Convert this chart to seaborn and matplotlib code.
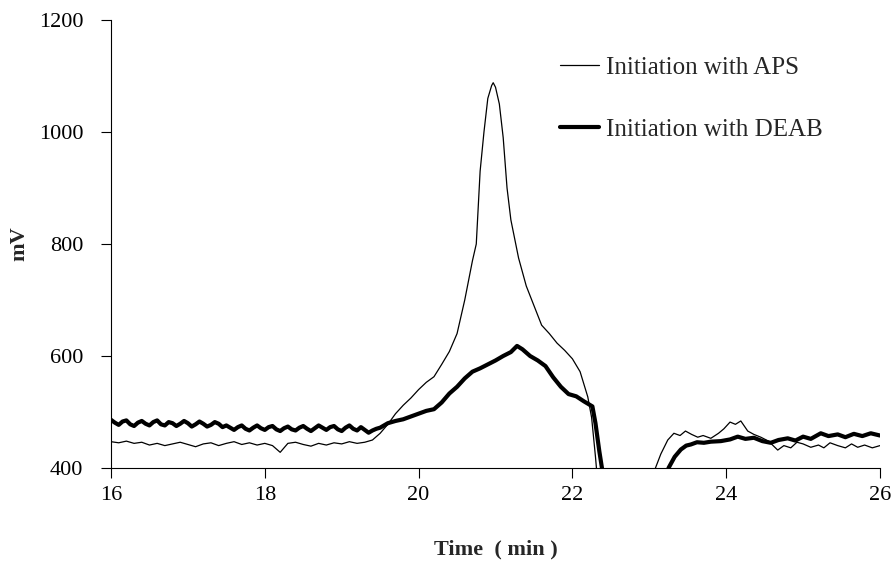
import numpy as np
import pandas as pd
import matplotlib
matplotlib.use("Agg")
import matplotlib.pyplot as plt
import seaborn as sns

# ---- data ----
aps_time = [16.0, 16.1, 16.2, 16.3, 16.4, 16.5, 16.6, 16.7, 16.8, 16.9,
            17.0, 17.1, 17.2, 17.3, 17.4, 17.5, 17.6, 17.7, 17.8, 17.9,
            18.0, 18.1, 18.2, 18.3, 18.4, 18.5, 18.6, 18.7, 18.8, 18.9,
            19.0, 19.1, 19.2, 19.3, 19.4,
            19.5, 19.6, 19.7, 19.8, 19.9, 20.0, 20.1, 20.2, 20.3, 20.4,
            20.5, 20.6, 20.7, 20.75, 20.8, 20.85, 20.9, 20.95, 20.97, 21.0,
            21.05, 21.1, 21.15, 21.2, 21.3, 21.4, 21.5, 21.6, 21.7, 21.8,
            21.9, 22.0, 22.1, 22.2, 22.25, 22.3, 22.35, 22.5, 23.0,
            23.08, 23.15, 23.24, 23.32, 23.4, 23.47, 23.55, 23.63, 23.7, 23.8,
            23.9, 23.97, 24.05, 24.12, 24.19, 24.28, 24.36, 24.45, 24.55, 24.67,
            24.75, 24.84, 24.92, 25.0, 25.1, 25.2, 25.27, 25.35, 25.45, 25.55,
            25.63, 25.71, 25.8, 25.9, 26.0]
aps_mv = [447, 445, 448, 444, 446, 441, 444, 440, 443, 446,
          442, 438, 443, 445, 440, 444, 447, 442, 445, 441,
          444, 440, 428, 444, 446, 442, 439, 444, 441, 445,
          443, 447, 444, 446, 450,
          462, 478, 497, 512, 525, 540, 553, 563, 585, 608,
          640, 700, 770, 800, 930, 1000, 1060, 1083, 1088, 1080,
          1050, 990, 900, 843, 775, 725, 690, 655, 640, 623,
          610, 595, 572, 527, 490, 420, 340, 300, 300,
          400, 425, 450, 462, 458, 466, 460, 455, 458, 453,
          462, 470, 482, 478, 484, 466, 460, 455, 448, 432,
          440, 436, 446, 443, 437, 441, 436, 445, 440, 436,
          443, 437, 441, 436, 440]

deab_time = [16.00, 16.05, 16.10, 16.15, 16.20, 16.25, 16.30, 16.35, 16.40, 16.45,
             16.50, 16.55, 16.60, 16.65, 16.70, 16.75, 16.80, 16.85, 16.90, 16.95,
             17.00, 17.05, 17.10, 17.15, 17.20, 17.25, 17.30, 17.35, 17.40, 17.45,
             17.50, 17.55, 17.60, 17.65, 17.70, 17.75, 17.80, 17.85, 17.90, 17.95,
             18.00, 18.05, 18.10, 18.15, 18.20, 18.25, 18.30, 18.35, 18.40, 18.45,
             18.50, 18.55, 18.60, 18.65, 18.70, 18.75, 18.80, 18.85, 18.90, 18.95,
             19.00, 19.05, 19.10, 19.15, 19.20, 19.25, 19.30, 19.35, 19.40, 19.45,
             19.5, 19.6, 19.7, 19.8, 19.9, 20.0, 20.1, 20.2, 20.3, 20.4,
             20.5, 20.6, 20.7, 20.8, 20.9, 21.0, 21.1, 21.2, 21.28, 21.35,
             21.45, 21.55, 21.65, 21.75, 21.85, 21.95, 22.05, 22.15, 22.26, 22.3,
             22.35, 22.39, 22.45, 23.2,
             23.25, 23.33, 23.41, 23.48, 23.54, 23.62, 23.71, 23.8, 23.93, 24.05,
             24.15, 24.25, 24.36, 24.47, 24.58, 24.68, 24.8, 24.9, 25.0, 25.1,
             25.23, 25.33, 25.45, 25.55, 25.66, 25.77, 25.88, 26.0]
deab_mv = [486, 481, 477, 483, 485, 478, 475, 481, 484, 479,
           476, 482, 485, 478, 476, 482, 480, 475, 479, 484,
           480, 474, 478, 483, 479, 474, 477, 482, 479, 473,
           476, 472, 468, 473, 476, 470, 467, 472, 476, 471,
           468, 473, 475, 469, 466, 471, 474, 469, 467, 472,
           475, 470, 466, 471, 476, 472, 468, 473, 475, 469,
           466, 472, 476, 470, 467, 473, 468, 463, 467, 470,
           472, 480, 484, 487, 492, 497, 502, 505, 517, 533,
           545, 560, 572, 578, 585, 592, 600, 607, 618, 612,
           600, 592, 582, 562, 545, 532, 528, 519, 510, 480,
           430, 395, 300, 300,
           400, 420, 433, 440, 442, 446, 445, 447, 448, 451,
           456, 452, 454, 448, 445, 450, 453, 449, 456, 452,
           462, 457, 460, 455, 461, 457, 462, 458]

labels = ["Initiation with APS", "Initiation with DEAB"]
x_ticks = [16, 18, 20, 22, 24, 26]
y_ticks = [400, 600, 800, 1000, 1200]

df_aps = pd.DataFrame({"Time": aps_time, "mV": aps_mv})
df_deab = pd.DataFrame({"Time": deab_time, "mV": deab_mv})

sns.set_style("ticks")
plt.rcParams["font.family"] = ["Liberation Serif", "DejaVu Serif"]

fig = plt.figure(figsize=(8.92, 5.8), dpi=100)
ax = fig.add_axes([111 / 892, 1 - 468 / 580, (880 - 111) / 892, (468 - 20) / 580])

sns.lineplot(data=df_aps, x="Time", y="mV", ax=ax, color="black",
             linewidth=0.9, estimator=None, sort=False, label=labels[0])
sns.lineplot(data=df_deab, x="Time", y="mV", ax=ax, color="black",
             linewidth=3.0, estimator=None, sort=False, label=labels[1])

ax.set_xlim(16, 26)
ax.set_ylim(400, 1200)
ax.set_xticks(x_ticks)
ax.set_yticks(y_ticks)
ax.tick_params(axis="both", labelsize=16, colors="black", width=0.8)
ax.tick_params(axis="x", length=7, pad=6)
ax.tick_params(axis="y", length=7, pad=13)
for s in ["top", "right"]:
    ax.spines[s].set_visible(False)
for s in ["left", "bottom"]:
    ax.spines[s].set_color("black")
    ax.spines[s].set_linewidth(0.8)

ax.set_xlabel("Time  ( min )", fontsize=16, fontweight="bold", labelpad=25)
ax.set_ylabel("mV", fontsize=16, fontweight="bold", labelpad=7)

leg = ax.legend(loc="upper left", bbox_to_anchor=(560 / 892, 1 - 56 / 580),
                bbox_transform=fig.transFigure, frameon=False, fontsize=18,
                handlelength=1.55, handletextpad=0.3, labelspacing=1.6,
                borderpad=0, borderaxespad=0)

fig.savefig("out.png", dpi=100)
